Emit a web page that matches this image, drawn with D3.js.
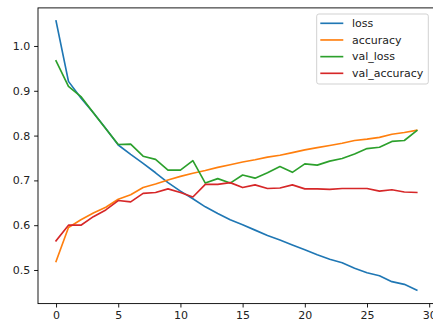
<!DOCTYPE html>
<html>
<head>
<meta charset="utf-8">
<script src="https://cdn.jsdelivr.net/npm/d3@7"></script>
<style>
  html, body { margin: 0; padding: 0; background: #fff; }
  svg { display: block; font-family: "DejaVu Sans", sans-serif; }
</style>
</head>
<body>
<svg id="chart" width="433" height="327"></svg>
<script>
// Training history, one value per epoch
const epochs = d3.range(30);
const loss = [1.056, 0.921, 0.884, 0.851, 0.816, 0.779, 0.758, 0.738, 0.717, 0.695,
              0.676, 0.659, 0.641, 0.626, 0.612, 0.601, 0.589, 0.577, 0.567, 0.556,
              0.545, 0.534, 0.524, 0.516, 0.504, 0.494, 0.487, 0.474, 0.468, 0.455];
const accuracy = [0.519, 0.595, 0.612, 0.627, 0.640, 0.658, 0.668, 0.684, 0.692, 0.701,
                  0.709, 0.716, 0.722, 0.729, 0.735, 0.741, 0.746, 0.752, 0.756, 0.762,
                  0.768, 0.773, 0.778, 0.783, 0.789, 0.792, 0.796, 0.803, 0.807, 0.812];
const valLoss = [0.967, 0.910, 0.887, 0.851, 0.815, 0.780, 0.781, 0.754, 0.747, 0.723,
                 0.723, 0.744, 0.694, 0.704, 0.694, 0.712, 0.705, 0.717, 0.731, 0.718,
                 0.737, 0.734, 0.743, 0.749, 0.759, 0.771, 0.774, 0.787, 0.789, 0.811];
const valAccuracy = [0.565, 0.600, 0.600, 0.619, 0.634, 0.655, 0.652, 0.671, 0.673, 0.681,
                     0.673, 0.663, 0.691, 0.691, 0.695, 0.684, 0.690, 0.682, 0.683, 0.690,
                     0.681, 0.681, 0.680, 0.682, 0.682, 0.682, 0.676, 0.679, 0.674, 0.673];

const seriesNames = ["loss", "accuracy", "val_loss", "val_accuracy"];
const seriesValues = [loss, accuracy, valLoss, valAccuracy];
const colors = ["#1f77b4", "#ff7f0e", "#2ca02c", "#d62728"];

const xTicks = [0, 5, 10, 15, 20, 25, 30];
const yTicks = [0.5, 0.6, 0.7, 0.8, 0.9, 1.0];

const svg = d3.select("#chart");
svg.append("rect").attr("width", 433).attr("height", 327).attr("fill", "#fff");

// plot area (right edge runs past the canvas)
const plotLeft = 38, plotRight = 434.8, plotTop = 7.9, plotBottom = 303.6;

const x = d3.scaleLinear().domain([-1.45, 30.45]).range([plotLeft, plotRight]);
const y = d3.scaleLinear().domain([0.425, 1.085]).range([plotBottom, plotTop]);

const line = d3.line()
  .x((d, i) => x(epochs[i]))
  .y(d => y(d));

const plot = svg.append("g");
seriesValues.forEach((vals, k) => {
  plot.append("path")
    .datum(vals)
    .attr("d", line)
    .attr("fill", "none")
    .attr("stroke", colors[k])
    .attr("stroke-width", 1.65)
    .attr("stroke-linejoin", "round")
    .attr("stroke-linecap", "square");
});

// frame
svg.append("rect")
  .attr("x", plotLeft).attr("y", plotTop)
  .attr("width", plotRight - plotLeft).attr("height", plotBottom - plotTop)
  .attr("fill", "none").attr("stroke", "#000").attr("stroke-width", 0.9);

// axes
const xAxis = d3.axisBottom(x).tickValues(xTicks).tickFormat(d3.format("d"))
  .tickSize(3.9).tickPadding(3.9);
const yAxis = d3.axisLeft(y).tickValues(yTicks).tickFormat(d3.format(".1f"))
  .tickSize(3.9).tickPadding(3.9);

const gx = svg.append("g").attr("transform", `translate(0,${plotBottom})`).call(xAxis);
const gy = svg.append("g").attr("transform", `translate(${plotLeft},0)`).call(yAxis);
[gx, gy].forEach(g => {
  g.select(".domain").remove();
  g.selectAll(".tick line").attr("stroke", "#000").attr("stroke-width", 0.9);
  g.selectAll(".tick text")
    .attr("fill", "#222")
    .style("font-family", "'DejaVu Sans', sans-serif")
    .style("font-size", "11px");
});

// legend
const legend = svg.append("g").attr("transform", "translate(316.7,14)");
legend.append("rect")
  .attr("width", 111.6).attr("height", 70)
  .attr("rx", 2.2).attr("ry", 2.2)
  .attr("fill", "#fff").attr("fill-opacity", 0.8)
  .attr("stroke", "#cccccc").attr("stroke-width", 0.9);

seriesNames.forEach((name, k) => {
  const row = legend.append("g").attr("transform", `translate(0,${9.3 + k * 16.67})`);
  row.append("line")
    .attr("x1", 3.6).attr("x2", 26.6)
    .attr("y1", 0).attr("y2", 0)
    .attr("stroke", colors[k]).attr("stroke-width", 1.65);
  row.append("text")
    .attr("x", 35.2).attr("y", 0)
    .attr("dy", "0.35em")
    .attr("fill", "#222")
    .style("font-size", "11px")
    .text(name);
});
</script>
</body>
</html>
